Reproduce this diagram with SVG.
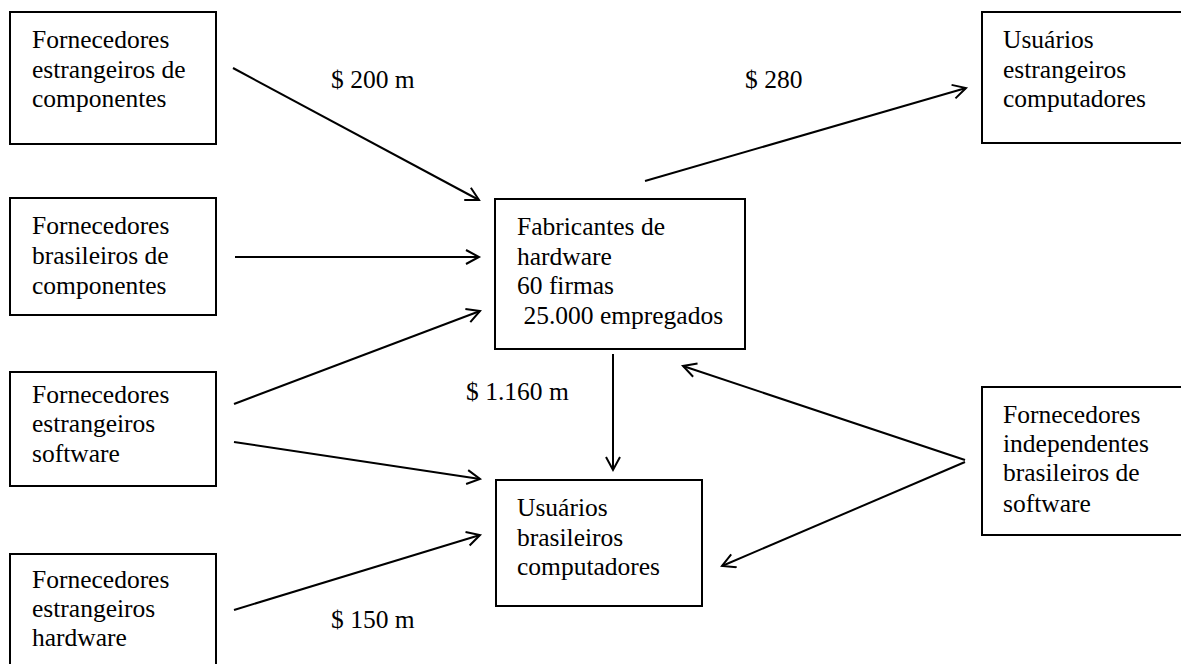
<svg xmlns="http://www.w3.org/2000/svg" width="1181" height="664" viewBox="0 0 1181 664">
<style>
.box{fill:#fff;stroke:#000;stroke-width:2}
.t{font-family:"Liberation Serif","Times New Roman",serif;font-size:25.5px;fill:#000}
.c{stroke:#000;stroke-width:2;fill:none;marker-end:url(#ah)}
</style>
<defs>
<marker id="ah" markerUnits="userSpaceOnUse" markerWidth="20" markerHeight="20" refX="14" refY="8" orient="auto">
<path d="M1,1 L14,8 L1,15" fill="none" stroke="#000" stroke-width="2"/>
</marker>
</defs>
<rect width="1181" height="664" fill="#fff"/>
<g id="n1"><rect class="box" x="10" y="12" width="206" height="132"/>
<text class="t" x="32" y="48">Fornecedores</text><text class="t" x="32" y="78">estrangeiros de</text><text class="t" x="32" y="107">componentes</text></g>
<g id="n2"><rect class="box" x="10" y="198" width="206" height="117"/>
<text class="t" x="32" y="234">Fornecedores</text><text class="t" x="32" y="264">brasileiros de</text><text class="t" x="32" y="294">componentes</text></g>
<g id="n3"><rect class="box" x="10" y="372" width="206" height="114"/>
<text class="t" x="32" y="403">Fornecedores</text><text class="t" x="32" y="432">estrangeiros</text><text class="t" x="32" y="462">software</text></g>
<g id="n4"><rect class="box" x="10" y="554" width="206" height="120"/>
<text class="t" x="32" y="588">Fornecedores</text><text class="t" x="32" y="617">estrangeiros</text><text class="t" x="32" y="646">hardware</text></g>
<g id="n5"><rect class="box" x="495" y="199" width="250" height="150"/>
<text class="t" x="517" y="235">Fabricantes de</text><text class="t" x="517" y="265">hardware</text><text class="t" x="517" y="294">60 firmas</text><text class="t" x="517" y="324" xml:space="preserve"> 25.000 empregados</text></g>
<g id="n6"><rect class="box" x="982" y="12" width="210" height="131"/>
<text class="t" x="1003" y="48">Usuários</text><text class="t" x="1003" y="78">estrangeiros</text><text class="t" x="1003" y="107">computadores</text></g>
<g id="n7"><rect class="box" x="982" y="387" width="210" height="148"/>
<text class="t" x="1003" y="423">Fornecedores</text><text class="t" x="1003" y="452">independentes</text><text class="t" x="1003" y="481">brasileiros de</text><text class="t" x="1003" y="512">software</text></g>
<g id="n8"><rect class="box" x="496" y="480" width="206" height="126"/>
<text class="t" x="517" y="516">Usuários</text><text class="t" x="517" y="546">brasileiros</text><text class="t" x="517" y="575">computadores</text></g>
<g id="connectors">
<line class="c" x1="233" y1="68" x2="479" y2="200"/>
<line class="c" x1="235" y1="257" x2="479" y2="257"/>
<line class="c" x1="234" y1="404" x2="480" y2="311"/>
<line class="c" x1="234" y1="442" x2="480" y2="479"/>
<line class="c" x1="234" y1="610" x2="480" y2="535"/>
<line class="c" x1="613" y1="354" x2="613" y2="470"/>
<line class="c" x1="645" y1="181" x2="966" y2="88"/>
<line class="c" x1="965" y1="460" x2="683" y2="366"/>
<line class="c" x1="965" y1="462" x2="722" y2="566"/>
</g>
<g id="labels">
<text class="t" x="331" y="88">$ 200 m</text>
<text class="t" x="745" y="88">$ 280</text>
<text class="t" x="466" y="400">$ 1.160 m</text>
<text class="t" x="331" y="628">$ 150 m</text>
</g>
</svg>
